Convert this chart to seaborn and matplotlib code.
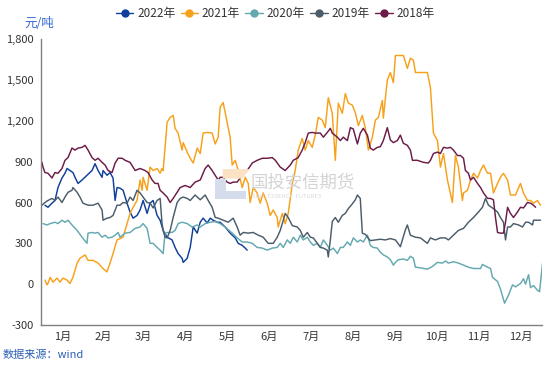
import numpy as np
import pandas as pd
import matplotlib
matplotlib.use("Agg")
import matplotlib.pyplot as plt
import seaborn as sns
from matplotlib.lines import Line2D
from matplotlib.ticker import FuncFormatter, FixedLocator
from matplotlib.patches import Polygon

# day of year (0-365) and value in 元/吨
day_2022 = [2.9, 5.1, 8.0, 10.2, 12.4, 15.3, 17.5, 19.0, 21.1, 23.3, 24.8, 27.0, 29.9, 33.5, 37.2, 39.4,
            41.6, 44.5, 45.2, 48.1, 50.3, 52.5, 54.0, 55.4, 57.6, 59.8, 62.7, 64.9, 67.1, 70.0, 72.2, 74.4,
            77.3, 79.5, 81.7, 84.6, 86.8, 89.0, 91.9, 95.5, 97.7, 99.9, 102.8, 103.6, 106.5, 108.7, 110.9,
            113.8, 116.0, 118.1, 121.1, 123.3, 125.4, 128.4, 130.5, 134.2, 137.8, 141.5, 143.7, 146.6,
            148.8, 150.2]
val_2022 = [580, 565, 595, 615, 710, 780, 815, 850, 835, 820, 785, 740, 765, 800, 835, 885,
            835, 785, 835, 800, 820, 780, 615, 710, 705, 690, 595, 530, 485, 505, 545, 615,
            520, 595, 615, 505, 470, 395, 345, 325, 270, 225, 190, 160, 190, 270, 420,
            375, 455, 485, 450, 485, 470, 455, 455, 420, 375, 340, 300, 285,
            265, 250]

day_2021 = [2.9, 4.4, 5.1, 6.6, 8.8, 11.7, 13.9, 16.0, 19.0, 21.1, 23.3, 26.3, 28.4, 32.1, 34.3, 37.9,
            41.6, 45.2, 48.1, 50.3, 52.5, 55.4, 57.6, 59.8, 62.7, 64.9, 67.1, 70.0, 72.2, 73.7, 74.4, 77.3,
            79.5, 81.7, 84.6, 86.8, 88.2, 89.0, 91.9, 94.1, 96.3, 97.7, 99.9, 102.8, 103.6, 106.5, 108.7,
            110.9, 113.8, 116.0, 118.1, 121.1, 124.7, 126.9, 129.1, 130.5, 132.7, 135.6, 137.8, 139.3,
            141.5, 143.7, 146.6, 148.8, 151.0, 152.4, 154.6, 157.5, 159.7, 161.9, 164.8, 167.0, 169.2,
            172.1, 172.8, 175.8, 177.9, 180.1, 183.1, 185.2, 187.4, 190.3, 192.5, 194.7, 197.6, 199.8,
            202.0, 204.9, 207.1, 209.3, 212.2, 214.4, 216.6, 219.5, 221.7, 223.9, 226.8, 229.0, 231.2,
            234.1, 236.3, 238.5, 241.4, 243.6, 245.8, 248.7, 249.4, 252.3, 254.5, 256.7, 258.2, 264.0,
            266.9, 269.1, 271.3, 272.8, 281.5, 283.7, 285.9, 288.8, 291.0, 293.2, 296.1, 299.7, 301.9,
            304.1, 307.0, 307.8, 310.7, 312.9, 315.1, 318.0, 320.2, 322.4, 325.3, 327.5, 329.6, 332.6,
            334.7, 336.9, 339.9, 342.0, 345.7, 349.3, 351.5, 354.4, 356.6, 358.8, 361.7, 363.9]
val_2021 = [30, -5, 5, 50, 15, 45, 15, 45, 30, 5, 50, 155, 190, 215, 175, 175,
            155, 115, 90, 155, 225, 325, 335, 345, 445, 520, 565, 615, 765, 690, 785, 690,
            860, 835, 850, 815, 850, 835, 1190, 1225, 1240, 1145, 1110, 985, 1040, 970, 925,
            890, 1000, 960, 1110, 1115, 1110, 1030, 1080, 1300, 1335, 1190, 1080, 875,
            910, 835, 710, 785, 740, 600, 710, 670, 595, 670, 595, 505, 545,
            490, 420, 520, 445, 520, 740, 835, 985, 1070, 985, 1055, 1005, 1095,
            1225, 1205, 1150, 1370, 1255, 910, 1330, 1255, 1400, 1330, 1315, 1260, 1165,
            1240, 1145, 985, 1080, 1205, 1225, 1350, 1220, 1500, 1555, 1480, 1680, 1680,
            1585, 1660, 1645, 1555, 1555, 1445, 1110, 1055, 860, 960, 765, 600, 945,
            860, 615, 670, 690, 765, 815, 780, 835, 875, 815, 815, 670, 740,
            785, 815, 765, 655, 655, 740, 670, 615, 615, 595, 615, 580]

day_2020 = [1.5, 4.4, 6.6, 10.2, 12.4, 15.3, 17.5, 19.7, 22.6, 26.3, 29.9, 33.5, 34.3, 37.2, 39.4, 41.6,
            44.5, 46.7, 48.9, 51.8, 54.0, 56.2, 57.6, 61.3, 64.9, 68.6, 72.2, 74.4, 77.3, 79.5, 81.7,
            84.6, 86.8, 89.0, 90.4, 92.6, 95.5, 97.7, 99.9, 102.8, 106.5, 110.1, 113.8, 116.0, 119.6,
            123.3, 126.9, 130.5, 134.2, 139.3, 142.9, 146.6, 150.2, 153.9, 157.5, 161.2, 164.8, 168.5,
            172.1, 174.3, 176.5, 179.4, 181.6, 183.8, 186.7, 188.9, 191.1, 194.0, 196.2, 198.4, 201.3,
            203.5, 205.7, 208.6, 210.8, 213.0, 215.9, 218.1, 220.2, 223.2, 225.4, 227.5, 230.5, 232.6,
            234.8, 237.8, 239.9, 242.1, 245.0, 247.2, 249.4, 252.3, 254.5, 256.7, 258.2, 260.4, 264.0,
            266.9, 269.1, 271.3, 272.8, 276.4, 281.5, 285.2, 288.8, 292.4, 294.6, 296.8, 300.5, 304.1,
            307.8, 311.4, 315.1, 320.2, 321.6, 325.3, 327.5, 328.9, 332.6, 334.7, 337.7, 340.6, 343.5,
            345.7, 349.3, 351.5, 353.0, 355.2, 356.6, 358.8, 361.7, 363.2, 365.4]
val_2020 = [445, 435, 445, 455, 445, 470, 455, 470, 435, 395, 345, 300, 375, 380, 375, 380,
            345, 360, 340, 345, 360, 380, 345, 375, 380, 410, 420, 445, 410, 300, 300,
            270, 250, 225, 375, 380, 380, 395, 445, 455, 445, 420, 435, 420, 445,
            455, 460, 445, 420, 375, 340, 310, 310, 300, 270, 265, 250, 265,
            270, 300, 270, 325, 300, 345, 310, 360, 325, 345, 310, 285, 300,
            270, 325, 285, 250, 265, 225, 270, 270, 310, 285, 340, 310, 325,
            310, 360, 285, 270, 265, 235, 215, 200, 180, 140, 160, 180, 185,
            175, 205, 190, 125, 120, 110, 130, 160, 155, 170, 155, 165, 155,
            140, 125, 115, 115, 145, 125, 115, 50, 20, -35, -140, -80, -5,
            -20, 5, 40, 0, 70, -25, -10, -45, -55, 155]

day_2019 = [0.7, 2.9, 5.1, 8.0, 10.2, 12.4, 15.3, 17.5, 19.7, 22.6, 23.3, 26.3, 28.4, 30.6, 34.3, 37.9,
            41.6, 44.5, 45.2, 48.1, 50.3, 52.5, 55.4, 57.6, 59.8, 62.7, 64.9, 67.1, 70.0, 72.2, 74.4,
            77.3, 79.5, 81.7, 84.6, 86.8, 88.2, 89.0, 90.4, 91.9, 94.1, 96.3, 99.2, 101.4, 103.6, 106.5,
            108.7, 112.3, 116.0, 119.6, 121.8, 124.7, 126.9, 129.1, 132.7, 136.4, 140.0, 142.9, 145.1,
            147.3, 151.0, 154.6, 158.3, 161.9, 165.5, 169.2, 172.1, 174.3, 175.8, 177.9, 180.1, 183.1,
            186.7, 188.9, 191.1, 194.0, 196.2, 198.4, 201.3, 203.5, 205.7, 208.6, 209.3, 210.8, 212.2,
            214.4, 216.6, 219.5, 221.7, 223.9, 226.8, 229.0, 230.5, 232.6, 234.1, 236.3, 239.9, 243.6,
            247.2, 250.9, 254.5, 258.2, 261.8, 265.5, 266.9, 269.1, 272.8, 276.4, 281.5, 283.7, 287.3,
            291.0, 294.6, 296.8, 300.5, 304.1, 307.8, 311.4, 315.1, 318.7, 321.6, 323.8, 326.0, 328.9,
            332.6, 334.7, 336.9, 338.4, 339.9, 342.0, 344.2, 347.9, 350.8, 353.0, 355.2, 358.1, 358.8,
            361.7, 363.9]
val_2019 = [580, 600, 615, 630, 615, 640, 600, 640, 675, 690, 710, 675, 640, 595, 580, 580,
            595, 545, 470, 485, 490, 505, 580, 580, 600, 595, 640, 615, 690, 670, 640,
            600, 595, 560, 615, 630, 445, 395, 345, 340, 395, 490, 600, 630, 640, 630,
            615, 655, 620, 655, 615, 565, 490, 485, 470, 455, 485, 420, 360,
            380, 375, 380, 360, 345, 300, 300, 345, 395, 445, 520, 490, 430,
            420, 395, 345, 380, 345, 340, 300, 270, 265, 250, 200, 325, 460,
            490, 455, 505, 520, 555, 590, 620, 655, 630, 375, 365, 320, 325,
            330, 325, 335, 325, 275, 400, 435, 360, 345, 340, 300, 340, 325,
            340, 340, 325, 360, 395, 410, 455, 490, 530, 565, 630, 580, 560,
            530, 490, 455, 325, 420, 420, 445, 435, 420, 455, 455, 435, 470,
            470, 470]

day_2018 = [0.7, 1.5, 2.9, 5.1, 8.0, 10.2, 12.4, 15.3, 17.5, 19.7, 22.6, 24.8, 27.0, 29.9, 32.1, 34.3,
            37.2, 39.4, 41.6, 44.5, 46.7, 48.9, 51.8, 54.0, 56.2, 59.1, 61.3, 64.9, 68.6, 72.2, 75.8,
            78.0, 81.0, 83.1, 85.3, 86.8, 89.0, 91.9, 94.1, 96.3, 99.2, 101.4, 105.0, 108.7, 112.3,
            116.0, 118.1, 119.6, 121.8, 124.7, 126.9, 129.1, 130.5, 132.7, 135.6, 137.8, 140.0, 142.9,
            145.1, 147.3, 150.2, 153.9, 157.5, 161.2, 164.8, 168.5, 170.7, 174.3, 177.9, 181.6, 183.8,
            187.4, 190.3, 192.5, 194.7, 197.6, 199.8, 203.5, 205.7, 208.6, 210.8, 212.2, 215.9, 218.1,
            220.2, 223.2, 225.4, 227.5, 230.5, 232.6, 234.8, 237.8, 239.9, 242.1, 245.0, 247.2, 249.4,
            252.3, 254.5, 256.7, 259.6, 261.8, 264.0, 266.9, 269.1, 270.6, 274.2, 278.6, 282.2, 283.7,
            285.9, 288.8, 291.0, 293.2, 296.1, 298.3, 300.5, 303.4, 305.6, 307.8, 309.2, 311.4, 312.9,
            315.1, 318.0, 320.2, 322.4, 325.3, 327.5, 329.6, 331.1, 332.6, 334.7, 336.9, 338.4, 339.9,
            342.0, 344.2, 347.1, 349.3, 351.5, 354.4, 356.6, 358.8, 360.3]
val_2018 = [895, 860, 820, 815, 780, 820, 815, 850, 910, 930, 1000, 985, 1000, 1005, 1020, 985,
            930, 910, 925, 895, 875, 835, 820, 890, 925, 925, 910, 895, 835, 850, 835,
            820, 765, 740, 740, 690, 670, 640, 600, 630, 675, 710, 725, 710, 750,
            765, 815, 850, 875, 835, 800, 765, 785, 785, 750, 740, 750, 750,
            780, 800, 835, 890, 910, 925, 925, 930, 910, 860, 835, 875, 910,
            930, 985, 1040, 1110, 1115, 1110, 1110, 1080, 1115, 1145, 1110, 1080, 1055,
            1080, 1055, 1150, 1140, 1030, 1110, 1145, 1095, 1000, 985, 1005, 1010, 1055,
            1150, 1060, 1040, 1055, 1095, 1035, 1020, 985, 910, 910, 895, 890, 910,
            960, 970, 960, 1005, 1000, 1005, 985, 945, 945, 925, 835, 815, 765,
            785, 740, 710, 670, 630, 630, 620, 490, 380, 375, 375, 455, 565,
            520, 490, 530, 565, 560, 600, 595, 580, 565]

years = ["2022年", "2021年", "2020年", "2019年", "2018年"]
colors = ["#0f3f9b", "#f7a11a", "#64a8b0", "#4b5d6b", "#6b1b47"]
month_labels = ["1月", "2月", "3月", "4月", "5月", "6月", "7月", "8月", "9月", "10月", "11月", "12月"]
month_starts = [0, 31, 59, 90, 120, 151, 181, 212, 243, 273, 304, 334, 365]

series = [(day_2022, val_2022), (day_2021, val_2021), (day_2020, val_2020),
          (day_2019, val_2019), (day_2018, val_2018)]
df = pd.concat([pd.DataFrame({"day": d, "value": v, "year": y})
                for (d, v), y in zip(series, years)], ignore_index=True)

sns.set_style("white")
plt.rcParams['font.family'] = ['Noto Sans CJK SC', 'DejaVu Sans']

fig = plt.figure(figsize=(5.5, 3.66), dpi=100)
ax = fig.add_axes([0.0745, 0.112, 0.911, 0.781])

# watermark (logo + company name) behind the lines
fig.patches.append(Polygon([[0.391, 0.455], [0.448, 0.455], [0.448, 0.478], [0.410, 0.478],
                            [0.410, 0.512], [0.391, 0.512]],
                           closed=True, transform=fig.transFigure, facecolor="#d5dded",
                           edgecolor="none", zorder=0))
fig.patches.append(Polygon([[0.405, 0.538], [0.455, 0.538], [0.440, 0.512], [0.405, 0.512]],
                           closed=True, transform=fig.transFigure, facecolor="#fbe2c4",
                           edgecolor="none", zorder=0))
fig.text(0.455, 0.502, "国投安信期货", fontsize=12.5, color="#d4d4d4", ha="left", va="center", zorder=0)
fig.text(0.458, 0.462, "SDIC  ESSENCE  FUTURES", fontsize=4.2, color="#d9d9d9", ha="left",
         va="center", zorder=0)
ax.patch.set_alpha(0)

sns.lineplot(data=df, x="day", y="value", hue="year", hue_order=years, palette=colors,
             estimator=None, linewidth=1.05, legend=False, ax=ax)

ax.set_xlim(0, 365)
ax.set_ylim(-300, 1800)
ax.set_yticks(np.arange(-300, 1801, 300))
ax.yaxis.set_major_formatter(FuncFormatter(lambda v, p: f"{int(v):,}"))
ax.xaxis.set_major_locator(FixedLocator(month_starts))
ax.set_xticklabels([])
centers = [(a + b) / 2 for a, b in zip(month_starts[:-1], month_starts[1:])]
ax.set_xticks(centers, minor=True)
ax.set_xticklabels(month_labels, minor=True)
ax.tick_params(axis="x", which="major", length=3.5, width=0.8, color="#808080", direction="out")
ax.tick_params(axis="x", which="minor", length=0, labelsize=8, colors="#333333", pad=5)
ax.tick_params(axis="y", length=3.5, width=0.8, color="#808080", labelsize=8, labelcolor="#333333", pad=2)
ax.set_xlabel("")
ax.set_ylabel("")
for s in ["top", "right"]:
    ax.spines[s].set_visible(False)
for s in ["left", "bottom"]:
    ax.spines[s].set_color("#808080")
    ax.spines[s].set_linewidth(1.0)

handles = [Line2D([0], [0], color=c, lw=1.0, marker="o", markersize=5) for c in colors]
fig.legend(handles, years, loc="center", bbox_to_anchor=(0.5, 0.962), ncol=5, frameon=False,
           fontsize=8.5, handlelength=1.5, handletextpad=0.3, columnspacing=0.45, labelcolor="#333333")

fig.text(0.045, 0.935, "元/吨", fontsize=9, color="#3569d4", ha="left", va="center")
fig.text(0.005, 0.030, "数据来源：wind", fontsize=8, color="#2d5fb5", ha="left", va="center")

fig.savefig("out.png", dpi=100)
